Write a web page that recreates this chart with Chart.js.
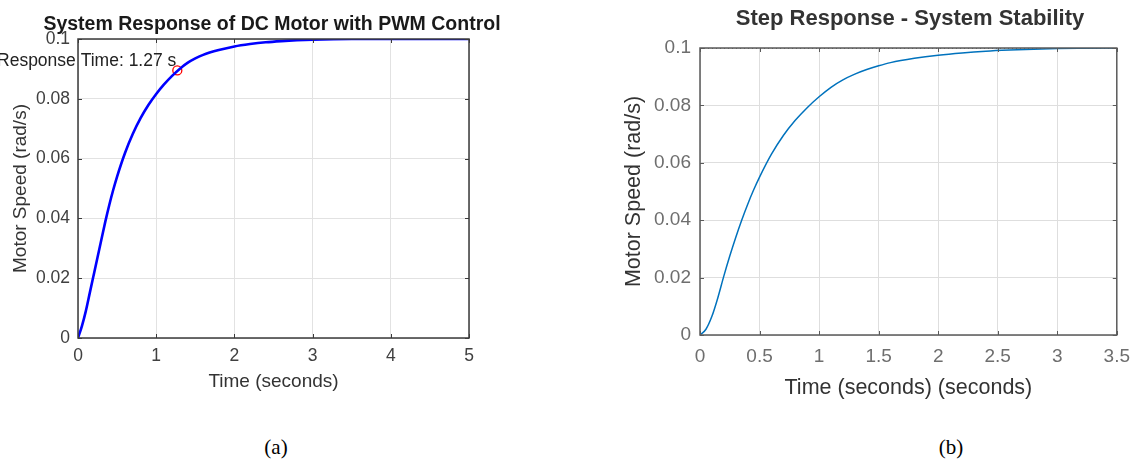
<!DOCTYPE html>
<html>
<head>
<meta charset="utf-8">
<script src="https://cdn.jsdelivr.net/npm/chart.js@4.4.1/dist/chart.umd.min.js"></script>
<style>
  body { margin: 0; background: #fff; width: 1140px; height: 464px; position: relative; overflow: hidden; }
  canvas { position: absolute; top: 0; }
  #chartA { left: 0; }
  #chartB { left: 580px; }
  .ttl { position: absolute; font-family: "Liberation Sans", Arial, sans-serif; font-weight: bold; white-space: nowrap; transform: translateX(-50%); }
  .cap { position: absolute; top: 435px; font-family: "Liberation Serif", "Times New Roman", serif; font-size: 21px; color: #000; transform: translateX(-50%); }
</style>
</head>
<body>
<canvas id="chartA" width="560" height="400"></canvas>
<canvas id="chartB" width="560" height="420"></canvas>
<div class="ttl" style="left:272px; top:11px; font-size:19.5px; line-height:24px; color:#1a1a1a">System Response of DC Motor with PWM Control</div>
<div class="ttl" style="left:910px; top:5px; font-size:22px; line-height:26px; color:#333">Step Response - System Stability</div>
<div class="cap" style="left:276px">(a)</div>
<div class="cap" style="left:951px">(b)</div>
<script>
// ---- panel (a): DC motor with PWM control ----
const timeA = [0, 0.05, 0.1, 0.15, 0.2, 0.25, 0.3, 0.35, 0.4, 0.45, 0.5, 0.6, 0.7, 0.8, 0.9, 1.0, 1.1, 1.2, 1.3, 1.4, 1.5, 1.6, 1.8, 2.0, 2.2, 2.4, 2.6, 2.8, 3.0, 3.5, 4.0, 4.5, 5.0];
const speedA = [0, 0.004, 0.009, 0.015, 0.021, 0.027, 0.033, 0.039, 0.0445, 0.0495, 0.054, 0.0618, 0.0682, 0.0735, 0.0779, 0.0816, 0.0848, 0.0876, 0.0900, 0.092, 0.0935, 0.0947, 0.0963, 0.0975, 0.0983, 0.0989, 0.0993, 0.0996, 0.0998, 0.1, 0.1, 0.1, 0.1];
const xTicksA = [0, 1, 2, 3, 4, 5];
const xLabelsA = ["0", "1", "2", "3", "4", "5"];
const respTime = 1.27;
const respSpeed = 0.0895;
const respText = "Response Time: 1.27 s";

// ---- panel (b): step response ----
const timeB = [0, 0.05, 0.1, 0.15, 0.2, 0.25, 0.3, 0.35, 0.4, 0.45, 0.5, 0.6, 0.7, 0.8, 0.9, 1.0, 1.1, 1.2, 1.3, 1.4, 1.5, 1.6, 1.8, 2.0, 2.2, 2.4, 2.6, 2.8, 3.0, 3.2, 3.5];
const speedB = [0, 0.002, 0.0065, 0.013, 0.0205, 0.0275, 0.034, 0.040, 0.0455, 0.0505, 0.055, 0.063, 0.0695, 0.0748, 0.0792, 0.083, 0.0863, 0.0889, 0.0909, 0.0925, 0.0938, 0.0949, 0.0964, 0.0975, 0.0983, 0.0989, 0.0993, 0.0996, 0.0998, 0.0999, 0.1];
const xTicksB = [0, 0.5, 1, 1.5, 2, 2.5, 3, 3.5];
const xLabelsB = ["0", "0.5", "1", "1.5", "2", "2.5", "3", "3.5"];
const steadyState = 0.1;

// shared y axis
const yTicks = [0, 0.02, 0.04, 0.06, 0.08, 0.1];
const yLabels = ["0", "0.02", "0.04", "0.06", "0.08", "0.1"];

Chart.defaults.font.family = "'Liberation Sans', Arial, sans-serif";
Chart.defaults.animation = false;

const toPoints = (xs, ys) => xs.map((x, i) => ({ x: x, y: ys[i] }));

// axis box with inward tick marks, like matlab
const boxPlugin = {
  id: "box",
  afterDatasetsDraw(chart, args, opts) {
    const { ctx, chartArea: a } = chart;
    const sx = chart.scales.x, sy = chart.scales.y;
    ctx.save();
    ctx.strokeStyle = opts.color;
    ctx.lineWidth = opts.width;
    ctx.strokeRect(a.left, a.top, a.right - a.left, a.bottom - a.top);
    ctx.beginPath();
    sx.ticks.forEach((t) => {
      const px = Math.round(sx.getPixelForValue(t.value)) + 0.5;
      ctx.moveTo(px, a.bottom); ctx.lineTo(px, a.bottom - 4);
      ctx.moveTo(px, a.top); ctx.lineTo(px, a.top + 4);
    });
    sy.ticks.forEach((t) => {
      const py = Math.round(sy.getPixelForValue(t.value)) + 0.5;
      ctx.moveTo(a.left, py); ctx.lineTo(a.left + 4, py);
      ctx.moveTo(a.right, py); ctx.lineTo(a.right - 4, py);
    });
    ctx.lineWidth = 1;
    ctx.stroke();
    ctx.restore();
  },
};

// text label next to the response-time marker
const respLabel = {
  id: "respLabel",
  afterDatasetsDraw(chart) {
    const { ctx } = chart;
    const px = chart.scales.x.getPixelForValue(respTime);
    const py = chart.scales.y.getPixelForValue(respSpeed);
    ctx.save();
    ctx.font = "17.5px 'Liberation Sans', Arial, sans-serif";
    ctx.fillStyle = "#222";
    ctx.textAlign = "right";
    ctx.textBaseline = "middle";
    ctx.fillText(respText, px - 1, py - 9);
    ctx.restore();
  },
};

function axisOpts(cfg) {
  return {
    x: {
      type: "linear",
      min: cfg.xTicks[0],
      max: cfg.xTicks[cfg.xTicks.length - 1],
      afterBuildTicks: (s) => { s.ticks = cfg.xTicks.map((v) => ({ value: v })); },
      afterFit: (s) => { s.height = cfg.xHeight; },
      grid: { color: cfg.gridColor, drawTicks: false },
      border: { display: false },
      ticks: {
        autoSkip: false, maxRotation: 0, padding: cfg.xTickPad,
        color: cfg.tickColor, font: { size: cfg.tickSize },
        callback: (v, i) => cfg.xLabels[i],
      },
      title: {
        display: true, text: cfg.xTitle, color: cfg.titleColor,
        font: { size: cfg.axisTitleSize }, padding: { top: 0, bottom: cfg.xTitlePad },
      },
    },
    y: {
      min: 0,
      max: 0.1,
      afterBuildTicks: (s) => { s.ticks = yTicks.map((v) => ({ value: v })); },
      afterFit: (s) => { s.width = cfg.yWidth; },
      grid: { color: cfg.gridColor, drawTicks: false },
      border: { display: false },
      ticks: {
        padding: cfg.yTickPad, color: cfg.tickColor, font: { size: cfg.tickSize },
        callback: (v, i) => yLabels[i],
      },
      title: {
        display: true, text: "Motor Speed (rad/s)", color: cfg.titleColor,
        font: { size: cfg.axisTitleSize }, padding: { top: cfg.yTitlePad, bottom: 0 },
      },
    },
  };
}

new Chart(document.getElementById("chartA"), {
  type: "line",
  data: {
    datasets: [
      {
        data: toPoints(timeA, speedA),
        borderColor: "#0000ff",
        borderWidth: 2.6,
        pointRadius: 0,
        cubicInterpolationMode: "monotone",
      },
      {
        data: [{ x: respTime, y: respSpeed }],
        showLine: false,
        pointRadius: 4.5,
        pointBorderWidth: 1.3,
        pointBorderColor: "#ff0000",
        pointBackgroundColor: "rgba(0,0,0,0)",
      },
    ],
  },
  options: {
    responsive: false,
    layout: { padding: { left: 0, right: 91, top: 39, bottom: 0 } },
    plugins: {
      legend: { display: false },
      tooltip: { enabled: false },
      box: { color: "#3a3a3a", width: 1.5 },
    },
    scales: axisOpts({
      xTicks: xTicksA, xLabels: xLabelsA, xTitle: "Time (seconds)",
      xHeight: 62, xTickPad: 8, xTitlePad: 7,
      yWidth: 78, yTickPad: 8, yTitlePad: 9,
      tickSize: 17.5, axisTitleSize: 19,
      tickColor: "#404040", titleColor: "#333", gridColor: "#e2e2e2",
    }),
  },
  plugins: [boxPlugin, respLabel],
});

new Chart(document.getElementById("chartB"), {
  type: "line",
  data: {
    datasets: [
      {
        data: toPoints(timeB, speedB),
        borderColor: "#0072bd",
        borderWidth: 1.5,
        pointRadius: 0,
        cubicInterpolationMode: "monotone",
      },
      {
        data: [{ x: xTicksB[0], y: steadyState }, { x: xTicksB[xTicksB.length - 1], y: steadyState }],
        borderColor: "#000",
        borderWidth: 1,
        borderDash: [1, 3],
        pointRadius: 0,
      },
    ],
  },
  options: {
    responsive: false,
    layout: { padding: { left: 0, right: 19, top: 48, bottom: 0 } },
    plugins: {
      legend: { display: false },
      tooltip: { enabled: false },
      box: { color: "#5a5a5a", width: 1.5 },
    },
    scales: axisOpts({
      xTicks: xTicksB, xLabels: xLabelsB, xTitle: "Time (seconds) (seconds)",
      xHeight: 85, xTickPad: 10, xTitlePad: 19,
      yWidth: 120, yTickPad: 9, yTitlePad: 41,
      tickSize: 19, axisTitleSize: 21.5,
      tickColor: "#6e6e6e", titleColor: "#333", gridColor: "#dedede",
    }),
  },
  plugins: [boxPlugin],
});
</script>
</body>
</html>
